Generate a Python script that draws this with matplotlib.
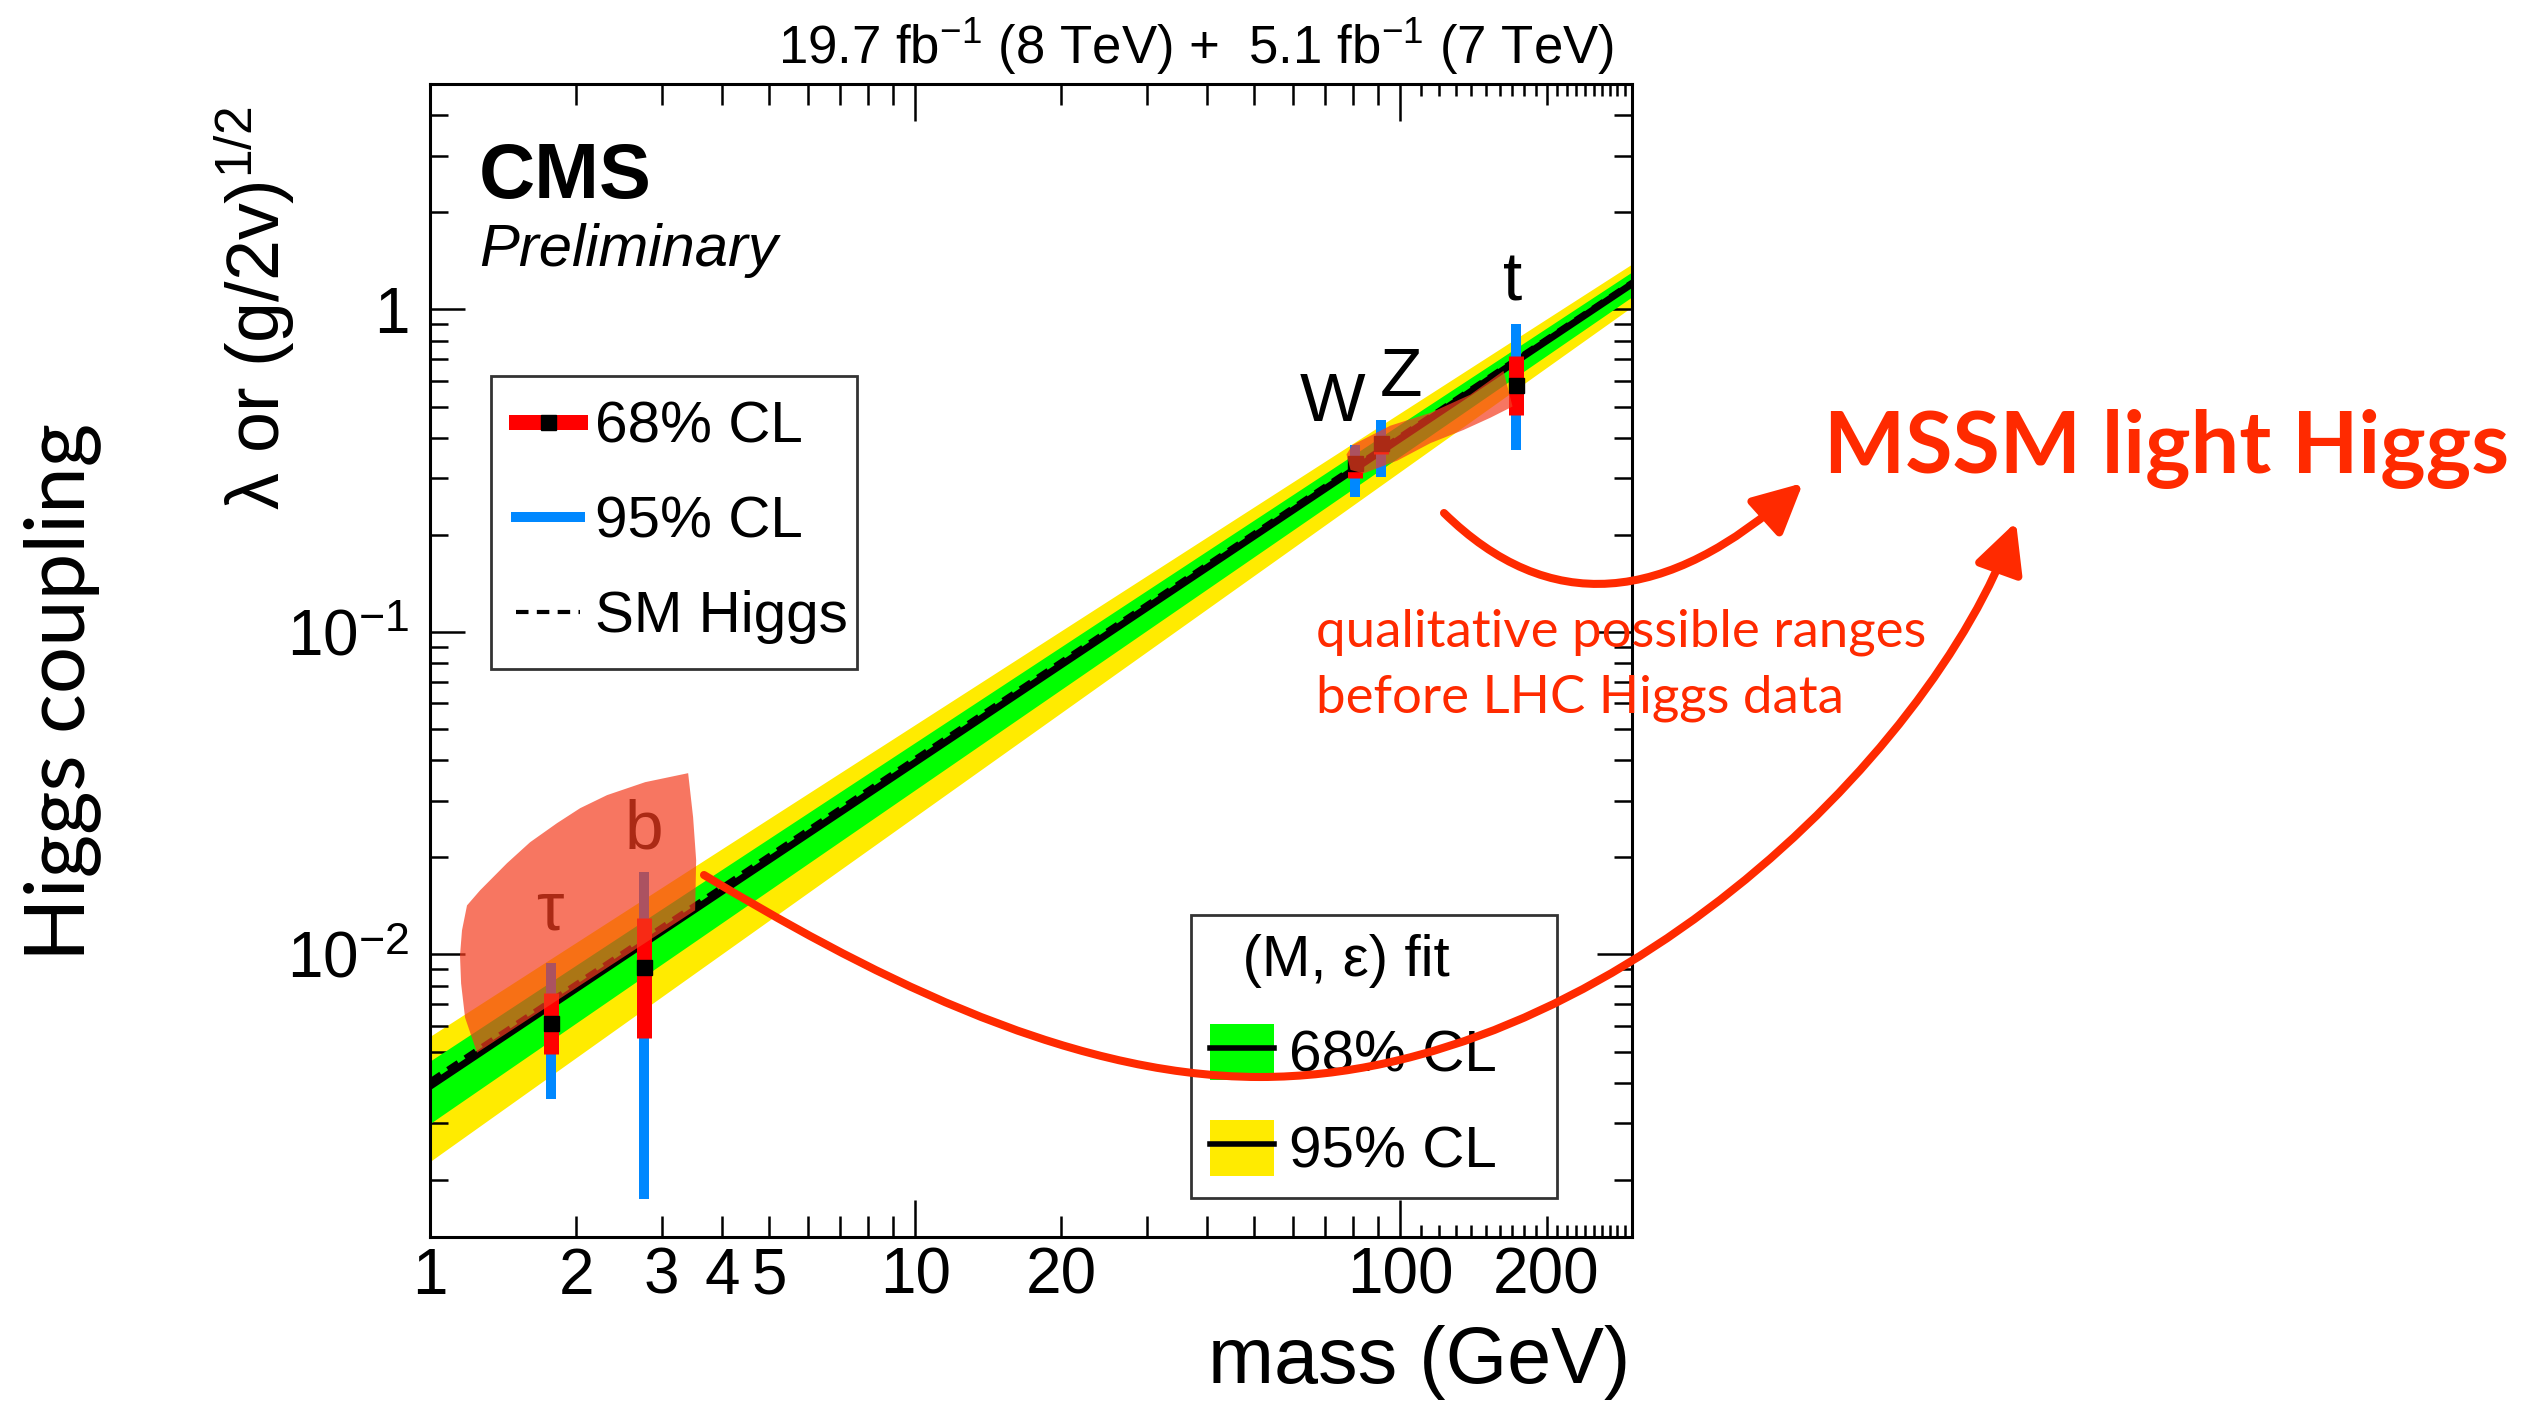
import numpy as np
import matplotlib
matplotlib.use("Agg")
import matplotlib.pyplot as plt
from matplotlib.lines import Line2D
from matplotlib.patches import Patch, Polygon, FancyArrowPatch
from matplotlib.path import Path
from matplotlib.ticker import FixedLocator, FuncFormatter, NullFormatter
from matplotlib.transforms import Affine2D

# ---- data ----
particles = ["τ", "b", "W", "Z", "t"]
mass = [1.777, 2.76, 80.4, 91.2, 172.6]
coupling = [0.00615, 0.00912, 0.335, 0.386, 0.585]
cl68_lo = [0.00492, 0.00552, 0.301, 0.355, 0.472]
cl68_hi = [0.00762, 0.0130, 0.349, 0.403, 0.715]
cl95_lo = [0.00357, 0.00175, 0.262, 0.303, 0.367]
cl95_hi = [0.00944, 0.0180, 0.381, 0.455, 0.898]

# (M, eps) fit band at the two ends of the mass range
band_mass = [1.0, 300.0]
fit_central = [0.0039, 1.20]
fit68_lo = [0.00299, 1.094]
fit68_hi = [0.00467, 1.307]
fit95_lo = [0.00228, 1.019]
fit95_hi = [0.00557, 1.383]
sm_vev = 246.0  # SM Higgs: lambda = m / v

# hand drawn MSSM ranges (mass, coupling)
mssm_low_m = [1.192, 1.268, 1.441, 1.608, 1.827, 2.039, 2.317, 2.776, 3.404,
              3.485, 3.536, 3.519, 1.250, 1.181, 1.159, 1.153, 1.164]
mssm_low_c = [0.01419, 0.01580, 0.01918, 0.02228, 0.02553, 0.02841, 0.03119, 0.03421, 0.03648,
              0.02664, 0.01959, 0.01370, 0.00496, 0.00637, 0.00813, 0.00993, 0.01188]
mssm_high_m = [79.6, 95.3, 115.3, 139.3, 163.0, 170.2, 153.4, 134.9, 115.3, 98.6, 83.9, 78.9, 77.4]
mssm_high_c = [0.380, 0.436, 0.478, 0.544, 0.645, 0.500, 0.462, 0.423, 0.385, 0.340, 0.310, 0.318, 0.355]

x_major = [1, 10, 100]
x_minor = [2, 3, 4, 5, 6, 7, 8, 9, 20, 30, 40, 50, 60, 70, 80, 90, 200]
x_tiny = [110, 120, 130, 140, 150, 160, 170, 180, 190, 210, 220, 230, 240, 250, 260, 270, 280, 290]
x_labelled = [1, 2, 3, 4, 5, 10, 20, 100, 200]

# colours
yellow = "#FFEB00"
green = "#00FF00"
red = "#FF0000"
blue = "#0088FF"
blob = "#F53C1E"
note_red = "#FF2A00"

plt.rcParams["font.family"] = ["Liberation Sans", "DejaVu Sans"]
plt.rcParams["mathtext.fontset"] = "custom"
plt.rcParams["mathtext.rm"] = "Liberation Sans"
plt.rcParams["mathtext.it"] = "Liberation Sans:italic"
plt.rcParams["mathtext.bf"] = "Liberation Sans:bold"
plt.rcParams["mathtext.default"] = "regular"

W, H = 2523, 1402
fig = plt.figure(figsize=(W / 100, H / 100), dpi=100)
# pixel coordinates measured from the top left corner
px = Affine2D().scale(1 / W, -1 / H).translate(0, 1) + fig.transFigure


def fbox(x0, y0, x1, y1):
    # box in figure fraction from top-left pixel corners
    return (x0 / W, 1 - y1 / H, (x1 - x0) / W, (y1 - y0) / H)


ax = fig.add_axes([430 / W, 1 - 1237 / H, 1202 / W, 1153 / H])
ax.set_xscale("log")
ax.set_yscale("log")
ax.set_xlim(1, 300)
ax.set_ylim(1.33e-3, 5.0)

# bands and lines
ax.fill_between(band_mass, fit95_lo, fit95_hi, color=yellow, lw=0, zorder=1)
ax.fill_between(band_mass, fit68_lo, fit68_hi, color=green, lw=0, zorder=2)
ax.plot(band_mass, fit_central, color="k", lw=5, zorder=3, solid_capstyle="butt")
sm = [m / sm_vev for m in band_mass]
ax.plot(band_mass, sm, color="k", lw=3, ls=(0, (3, 2)), zorder=3.5)

# measurements
ax.vlines(mass, cl95_lo, cl95_hi, color=blue, lw=7.2, zorder=4)
ax.vlines(mass, cl68_lo, cl68_hi, color=red, lw=10.8, zorder=5)
ax.plot(mass, coupling, "s", color="k", ms=10.8, zorder=6)

label_dx = [-1, 0, -16, 14, -2]
label_dy = [24, 17, 17, 17, 17]
for name, m, hi, dx, dy in zip(particles, mass, cl95_hi, label_dx, label_dy):
    ax.annotate(name, xy=(m, hi), xytext=(dx, dy), textcoords="offset points",
                ha="center", va="baseline", fontsize=50, zorder=6.5)

# MSSM ranges on top
ax.add_patch(Polygon(np.column_stack([mssm_low_m, mssm_low_c]), closed=True,
                     facecolor=blob, edgecolor="none", alpha=0.7, zorder=8))
ax.add_patch(Polygon(np.column_stack([mssm_high_m, mssm_high_c]), closed=True,
                     facecolor=blob, edgecolor="none", alpha=0.7, zorder=8))

# axes / ticks in ROOT style
for s in ax.spines.values():
    s.set_linewidth(2.2)
ax.xaxis.set_major_locator(FixedLocator(x_major))
ax.xaxis.set_minor_locator(FixedLocator(x_minor))
xfmt = FuncFormatter(lambda v, p: "%g" % v if round(v) in x_labelled else "")
ax.xaxis.set_major_formatter(xfmt)
ax.xaxis.set_minor_formatter(xfmt)
ax.yaxis.set_major_locator(FixedLocator([1e-3, 1e-2, 1e-1, 1]))
ax.yaxis.set_minor_locator(FixedLocator([k * 10.0 ** e for e in range(-3, 1) for k in range(2, 10)]))
ax.yaxis.set_major_formatter(FuncFormatter(lambda v, p: "1" if v == 1 else "$10^{%d}$" % round(np.log10(v))))
ax.yaxis.set_minor_formatter(NullFormatter())
ax.tick_params(which="both", direction="in", top=True, right=True, width=1.8, labelsize=46)
ax.tick_params(axis="x", which="major", length=26.5, pad=7)
ax.tick_params(axis="x", which="minor", length=15, pad=7)
ax.tick_params(axis="y", which="major", length=25, pad=15)
ax.tick_params(axis="y", which="minor", length=13)
# small third-level ticks above 100 GeV
ax.plot(x_tiny, [0] * len(x_tiny), ls="none", marker=2, ms=8.6, mew=1.8, color="k",
        transform=ax.get_xaxis_transform(), clip_on=False, zorder=9)
ax.plot(x_tiny, [1] * len(x_tiny), ls="none", marker=3, ms=8.6, mew=1.8, color="k",
        transform=ax.get_xaxis_transform(), clip_on=False, zorder=9)

# legends
h68 = Line2D([], [], color=red, lw=10.8, marker="s", ms=10.8, mfc="k", mec="k")
h95 = Line2D([], [], color=blue, lw=7.2)
hsm = Line2D([], [], color="k", lw=3, ls=(0, (3, 2)))
leg1 = ax.legend([h68, h95, hsm], ["68% CL", "95% CL", "SM Higgs"],
                 loc="upper left", bbox_to_anchor=fbox(491, 376, 857, 668),
                 bbox_transform=fig.transFigure, mode="expand",
                 fontsize=42, numpoints=1, fancybox=False, framealpha=1,
                 edgecolor="#333333", handlelength=1.1, handletextpad=0.26,
                 labelspacing=0.7, borderpad=0.42, borderaxespad=0)
leg1.get_frame().set_linewidth(2)
ax.add_artist(leg1)

g68 = (Patch(facecolor=green, edgecolor="none"), Line2D([], [], color="k", lw=4))
g95 = (Patch(facecolor=yellow, edgecolor="none"), Line2D([], [], color="k", lw=4))
leg2 = ax.legend([g68, g95], ["68% CL", "95% CL"], title="  (M, ε) fit",
                 title_fontsize=42, alignment="left",
                 loc="upper left", bbox_to_anchor=fbox(1191, 915, 1557, 1193),
                 bbox_transform=fig.transFigure, mode="expand",
                 fontsize=42, fancybox=False, framealpha=1, edgecolor="#333333",
                 handlelength=1.1, handleheight=1.1, handletextpad=0.26,
                 labelspacing=0.62, borderpad=0.32, borderaxespad=0)
leg2.get_frame().set_linewidth(2)
leg2.set_zorder(10)

# texts
fig.text(1614, 64, "19.7 fb$^{-1}$ (8 TeV) +  5.1 fb$^{-1}$ (7 TeV)", transform=px,
         ha="right", va="baseline", fontsize=38)
fig.text(479, 198, "CMS", transform=px, ha="left", va="baseline", fontsize=56, fontweight="bold")
fig.text(479, 266, "Preliminary", transform=px, ha="left", va="baseline", fontsize=43, style="italic")
fig.text(1630, 1383, "mass (GeV)", transform=px, ha="right", va="baseline", fontsize=57)
fig.text(255, 308, "λ or (g/2v)$^{1/2}$", transform=px, rotation=90,
         ha="center", va="center", fontsize=53)
fig.text(62, 692, "Higgs coupling", transform=px, rotation=90,
         ha="center", va="center", fontsize=60, family="Lato")

fig.text(1824, 473, "MSSM light Higgs", transform=px, ha="left", va="baseline",
         fontsize=62, family="Lato", fontweight="bold", color=note_red)
fig.text(1316, 647, "qualitative possible ranges", transform=px, ha="left", va="baseline",
         fontsize=38, family="Lato", color=note_red)
fig.text(1316, 712, "before LHC Higgs data", transform=px, ha="left", va="baseline",
         fontsize=38, family="Lato", color=note_red)

# curved arrows
arrow1 = Path([(1444, 513), (1600, 666), (1803, 483)],
              [Path.MOVETO, Path.CURVE3, Path.CURVE3])
arrow2 = Path([(704, 875), (854, 965), (1060, 1077), (1260, 1077),
               (1600, 1077), (1930, 760), (2016, 522)],
              [Path.MOVETO] + [Path.CURVE4] * 6)
for p in (arrow1, arrow2):
    fig.add_artist(FancyArrowPatch(path=p, transform=px, color=note_red, lw=5.8,
                                   arrowstyle="-|>,head_length=30,head_width=15",
                                   mutation_scale=1, zorder=20))

fig.savefig("out.png", dpi=100)
